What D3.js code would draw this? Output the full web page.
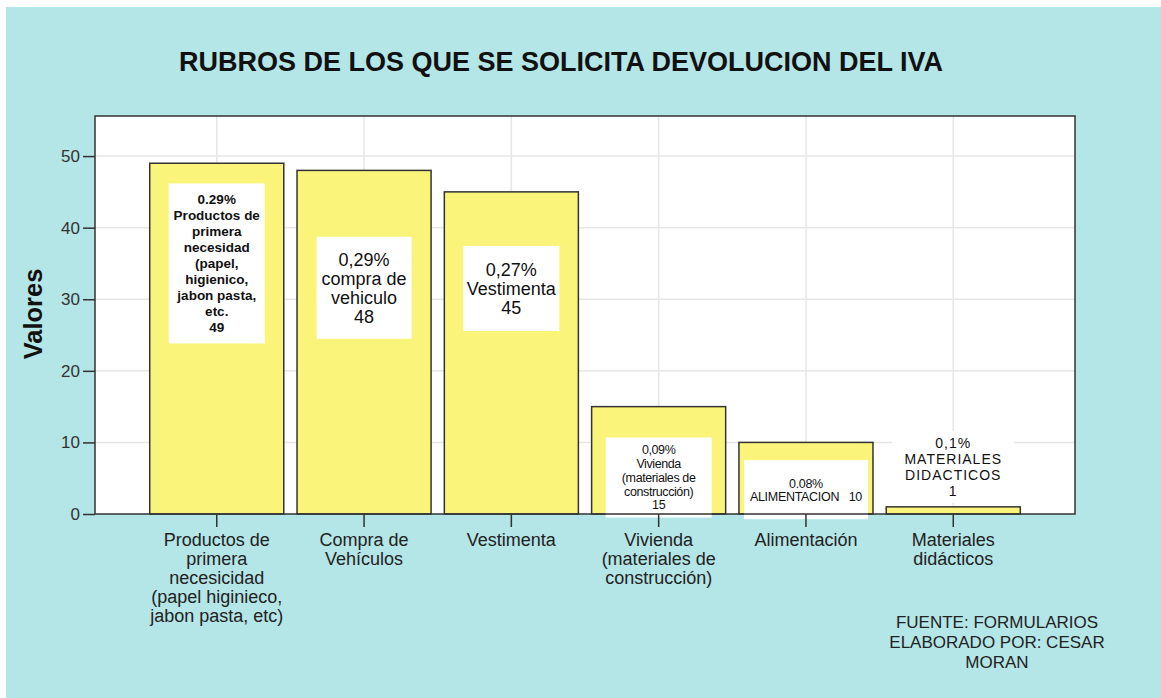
<!DOCTYPE html>
<html>
<head>
<meta charset="utf-8">
<script src="https://cdn.jsdelivr.net/npm/d3@7"></script>
<style>
  body { margin: 0; background: #fff; }
  text { font-family: "Liberation Sans", Arial, sans-serif; }
</style>
</head>
<body>
<div id="chart"></div>
<script>
// Chart data
var categories = ["Productos", "Compra", "Vestimenta", "Vivienda", "Alimentacion", "Materiales"];
var values = [49, 48, 45, 15, 10, 1];
var tickLines = [
    ["Productos de", "primera", "necesicidad", "(papel higinieco,", "jabon pasta, etc)"],
    ["Compra de", "Vehículos"],
    ["Vestimenta"],
    ["Vivienda", "(materiales de", "construcción)"],
    ["Alimentación"],
    ["Materiales", "didácticos"]
];
var percents = ["0.29%", "0,29%", "0,27%", "0,09%", "0.08%", "0,1%"];
var labelNames = [
    ["Productos de", "primera", "necesidad", "(papel,", "higienico,", "jabon pasta,", "etc."],
    ["compra de", "vehiculo"],
    ["Vestimenta"],
    ["Vivienda", "(materiales de", "construcción)"],
    ["ALIMENTACION"],
    ["MATERIALES", "DIDACTICOS"]
];
var yTicks = [0, 10, 20, 30, 40, 50];

// Label box styling (center given in data units)
var labelStyle = [
    {at: 35.0, w: 96, h: 160, fs: 13.5, lh: 16, weight: "bold", ls: 0},
    {at: 31.6, w: 95, h: 102, fs: 18, lh: 19, weight: "normal", ls: 0},
    {at: 31.5, w: 96, h: 85, fs: 18, lh: 19, weight: "normal", ls: 0},
    {at: 5.1, w: 106, h: 80, fs: 12.5, lh: 13.8, weight: "normal", ls: -0.4},
    {at: 3.4, w: 124, h: 59, fs: 12.5, lh: 13, weight: "normal", ls: -0.3, inline: true},
    {at: 6.6, w: 122, h: 72, fs: 14, lh: 16, weight: "normal", ls: 1}
];

var svgWidth = 1161;
var svgHeight = 698;
var plot = {left: 95, right: 1075, top: 116, bottom: 514};

var svg = d3.select("#chart")
    .append("svg")
    .attr("width", svgWidth)
    .attr("height", svgHeight);

// cyan panel
svg.append("rect")
    .attr("x", 6)
    .attr("y", 7)
    .attr("width", svgWidth - 6)
    .attr("height", svgHeight - 7)
    .attr("fill", "#b4e5e7");

svg.append("text")
    .attr("x", 561)
    .attr("y", 71)
    .attr("text-anchor", "middle")
    .attr("font-size", 27)
    .attr("font-weight", "bold")
    .attr("fill", "#111")
    .text("RUBROS DE LOS QUE SE SOLICITA DEVOLUCION DEL IVA");

var xScale = d3.scaleBand()
    .domain(categories)
    .range([plot.left, plot.right])
    .paddingInner(0.09)
    .paddingOuter(0.3715);

var yScale = d3.scaleLinear()
    .domain([0, 55.6])
    .range([plot.bottom, plot.top]);

// plot background
svg.append("rect")
    .attr("x", plot.left)
    .attr("y", plot.top)
    .attr("width", plot.right - plot.left)
    .attr("height", plot.bottom - plot.top)
    .attr("fill", "#fff");

// gridlines
svg.append("g")
    .selectAll("line")
    .data(yTicks.slice(1))
    .enter()
    .append("line")
    .attr("x1", plot.left)
    .attr("x2", plot.right)
    .attr("y1", d => yScale(d))
    .attr("y2", d => yScale(d))
    .attr("stroke", "#e6e6e6")
    .attr("stroke-width", 1.5);

svg.append("g")
    .selectAll("line")
    .data(categories)
    .enter()
    .append("line")
    .attr("x1", d => xScale(d) + xScale.bandwidth() / 2)
    .attr("x2", d => xScale(d) + xScale.bandwidth() / 2)
    .attr("y1", plot.top)
    .attr("y2", plot.bottom)
    .attr("stroke", "#e6e6e6")
    .attr("stroke-width", 1.5);

// bars
svg.append("g")
    .selectAll("rect")
    .data(values)
    .enter()
    .append("rect")
    .attr("x", (d, i) => xScale(categories[i]))
    .attr("y", d => yScale(d))
    .attr("width", xScale.bandwidth())
    .attr("height", d => plot.bottom - yScale(d))
    .attr("fill", "#faf57a")
    .attr("stroke", "#333")
    .attr("stroke-width", 1.5);

// label boxes
var labels = svg.append("g")
    .selectAll("g")
    .data(values)
    .enter()
    .append("g")
    .attr("transform", (d, i) => `translate(${xScale(categories[i]) + xScale.bandwidth() / 2}, ${yScale(labelStyle[i].at)})`);

labels.append("rect")
    .attr("x", (d, i) => -labelStyle[i].w / 2)
    .attr("y", (d, i) => -labelStyle[i].h / 2)
    .attr("width", (d, i) => labelStyle[i].w)
    .attr("height", (d, i) => labelStyle[i].h)
    .attr("fill", "#fff");

labels.each(function(d, i) {
    var st = labelStyle[i];
    var lines;
    if (st.inline) {
        lines = [percents[i]].concat(labelNames[i].slice(0, -1), [labelNames[i][labelNames[i].length - 1] + "\u00a0\u00a0\u00a0" + d]);
    } else {
        lines = [percents[i]].concat(labelNames[i], [String(d)]);
    }
    var t = d3.select(this).append("text")
        .attr("text-anchor", "middle")
        .attr("font-size", st.fs)
        .attr("font-weight", st.weight)
        .attr("letter-spacing", st.ls)
        .attr("fill", "#111");
    var startY = -(lines.length - 1) * st.lh / 2 + st.fs * 0.35;
    lines.forEach(function(line, j) {
        t.append("tspan")
            .attr("x", 0)
            .attr("y", startY + j * st.lh)
            .text(line);
    });
});

// frame
svg.append("rect")
    .attr("x", plot.left)
    .attr("y", plot.top)
    .attr("width", plot.right - plot.left)
    .attr("height", plot.bottom - plot.top)
    .attr("fill", "none")
    .attr("stroke", "#333")
    .attr("stroke-width", 1.5);

// y axis
var leftAxis = d3.axisLeft(yScale)
    .tickValues(yTicks)
    .tickSize(12)
    .tickPadding(3);

var yAxis = svg.append("g")
    .attr("transform", `translate(${plot.left}, 0)`)
    .call(leftAxis);
yAxis.select(".domain").remove();
yAxis.selectAll("line").attr("stroke", "#333").attr("stroke-width", 1.5);
yAxis.selectAll("text")
    .attr("font-size", 17)
    .attr("font-family", "Liberation Sans, Arial, sans-serif")
    .attr("fill", "#333");

svg.append("text")
    .attr("transform", "translate(42, 314) rotate(-90)")
    .attr("text-anchor", "middle")
    .attr("font-size", 25.5)
    .attr("font-weight", "bold")
    .attr("fill", "#111")
    .text("Valores");

// x axis
var bottomAxis = d3.axisBottom(xScale)
    .tickSize(13)
    .tickFormat("");

var xAxis = svg.append("g")
    .attr("transform", `translate(0, ${plot.bottom})`)
    .call(bottomAxis);
xAxis.select(".domain").remove();
xAxis.selectAll("line").attr("stroke", "#333").attr("stroke-width", 1.5);

var xLabels = svg.append("g")
    .selectAll("text")
    .data(categories)
    .enter()
    .append("text")
    .attr("text-anchor", "middle")
    .attr("font-size", 18)
    .attr("fill", "#222");

xLabels.each(function(d, i) {
    var t = d3.select(this);
    tickLines[i].forEach(function(line, j) {
        t.append("tspan")
            .attr("x", xScale(d) + xScale.bandwidth() / 2)
            .attr("y", 546 + j * 19)
            .text(line);
    });
});

// footer
var footer = svg.append("text")
    .attr("text-anchor", "middle")
    .attr("font-size", 17)
    .attr("fill", "#222");

["FUENTE: FORMULARIOS", "ELABORADO POR: CESAR", "MORAN"].forEach(function(line, j) {
    footer.append("tspan")
        .attr("x", 997)
        .attr("y", 628 + j * 20)
        .text(line);
});
</script>
</body>
</html>
